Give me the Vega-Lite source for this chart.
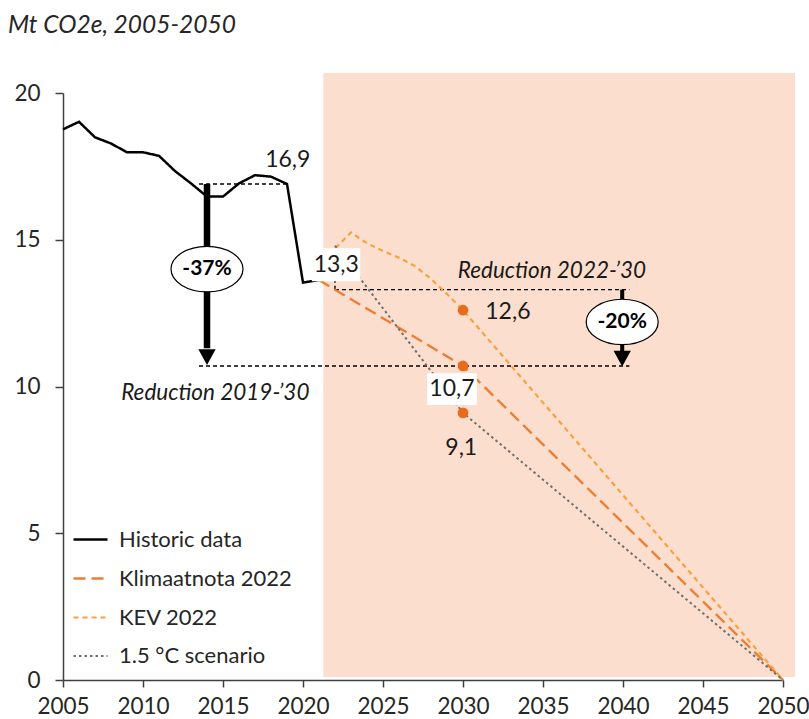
{
  "$schema": "https://vega.github.io/schema/vega-lite/v6.json",
  "width": 720,
  "height": 587,
  "autosize": {"type": "none"},
  "padding": {"left": 63, "top": 93, "right": 26, "bottom": 39},
  "config": {
    "view": {"stroke": null},
    "font": "Lato",
    "axis": {"grid": false, "domainColor": "#404040", "domainWidth": 1.5, "tickColor": "#404040", "tickWidth": 1.5, "labelColor": "#262626", "labelFontSize": 22.5, "labelFont": "Lato", "title": null}
  },
  "title": {"text": "Mt CO2e, 2005-2050", "anchor": "start", "frame": "group", "fontStyle": "italic", "fontWeight": "normal", "fontSize": 24.5, "font": "Lato", "color": "#262626", "dx": -55, "offset": 35},
  "datasets": {
    "shade": [{"x": 2021.27, "x2": 2050.75, "y": 0.1, "y2": 20.68}],
    "hrefs": [
      {"x": 2013.5, "x2": 2019, "y": 16.9},
      {"x": 2022, "x2": 2040.4, "y": 13.3},
      {"x": 2013.5, "x2": 2040.4, "y": 10.7}
    ],
    "vrefs": [{"x": 2022, "y": 13.3, "y2": 14.0}],
    "series": [
      {"series": "Historic data", "year": 2005, "value": 18.76},
      {"series": "Historic data", "year": 2006, "value": 19.02},
      {"series": "Historic data", "year": 2007, "value": 18.49},
      {"series": "Historic data", "year": 2008, "value": 18.28},
      {"series": "Historic data", "year": 2009, "value": 17.98},
      {"series": "Historic data", "year": 2010, "value": 17.98},
      {"series": "Historic data", "year": 2011, "value": 17.86},
      {"series": "Historic data", "year": 2012, "value": 17.34},
      {"series": "Historic data", "year": 2013, "value": 16.92},
      {"series": "Historic data", "year": 2014, "value": 16.47},
      {"series": "Historic data", "year": 2015, "value": 16.47},
      {"series": "Historic data", "year": 2016, "value": 16.92},
      {"series": "Historic data", "year": 2017, "value": 17.2},
      {"series": "Historic data", "year": 2018, "value": 17.15},
      {"series": "Historic data", "year": 2019, "value": 16.9},
      {"series": "Historic data", "year": 2020, "value": 13.54},
      {"series": "Historic data", "year": 2021, "value": 13.63},
      {"series": "Klimaatnota 2022", "year": 2021, "value": 13.63},
      {"series": "Klimaatnota 2022", "year": 2022, "value": 13.3},
      {"series": "Klimaatnota 2022", "year": 2030, "value": 10.7},
      {"series": "Klimaatnota 2022", "year": 2050, "value": 0},
      {"series": "KEV 2022", "year": 2021, "value": 13.63},
      {"series": "KEV 2022", "year": 2022, "value": 14.7},
      {"series": "KEV 2022", "year": 2023, "value": 15.25},
      {"series": "KEV 2022", "year": 2024, "value": 14.88},
      {"series": "KEV 2022", "year": 2025, "value": 14.62},
      {"series": "KEV 2022", "year": 2026, "value": 14.39},
      {"series": "KEV 2022", "year": 2027, "value": 14.1},
      {"series": "KEV 2022", "year": 2028, "value": 13.67},
      {"series": "KEV 2022", "year": 2029, "value": 13.15},
      {"series": "KEV 2022", "year": 2030, "value": 12.6},
      {"series": "KEV 2022", "year": 2050, "value": 0},
      {"series": "1.5 °C scenario", "year": 2022, "value": 14.8},
      {"series": "1.5 °C scenario", "year": 2030, "value": 9.1},
      {"series": "1.5 °C scenario", "year": 2050, "value": 0}
    ],
    "dots": [
      {"year": 2030, "value": 12.6},
      {"year": 2030, "value": 10.7},
      {"year": 2030, "value": 9.1}
    ],
    "arrows": [
      {"id": "2019-30", "year": 2014, "top": 16.9, "bottom": 11.3, "head": 11.0, "pct": "-37%", "pctY": 14.0},
      {"id": "2022-30", "year": 2039.95, "top": 13.3, "bottom": 11.1, "head": 10.95, "pct": "-20%", "pctY": 12.2}
    ],
    "boxes": [
      {"x": 2020.55, "x2": 2023.58, "y": 13.59, "y2": 14.71},
      {"x": 2027.75, "x2": 2030.87, "y": 9.37, "y2": 10.45}
    ],
    "valueLabels": [
      {"year": 2019.05, "value": 17.72, "text": "16,9"},
      {"year": 2022.08, "value": 14.14, "text": "13,3"},
      {"year": 2029.31, "value": 9.91, "text": "10,7"},
      {"year": 2029.89, "value": 7.9, "text": "9,1"}
    ],
    "leftLabels": [
      {"year": 2031.39, "value": 12.54, "text": "12,6"}
    ],
    "italicLabels": [
      {"year": 2035.56, "value": 13.92, "text": "Reduction 2022-’30"},
      {"year": 2014.52, "value": 9.78, "text": "Reduction 2019-’30"}
    ]
  },
  "layer": [
    {
      "data": {"name": "shade"},
      "mark": {"type": "rect", "color": "#FBDECD"},
      "encoding": {
        "x": {"field": "x", "type": "quantitative", "scale": {"domain": [2005, 2050], "nice": false, "zero": false},
              "axis": {"values": [2005, 2010, 2015, 2020, 2025, 2030, 2035, 2040, 2045, 2050], "format": "d", "tickSize": 7, "labelPadding": 8, "labelFlush": false}},
        "x2": {"field": "x2"},
        "y": {"field": "y", "type": "quantitative", "scale": {"domain": [0, 20], "nice": false, "zero": true},
              "axis": {"values": [0, 5, 10, 15, 20], "tickSize": 8, "labelPadding": 15}},
        "y2": {"field": "y2"}
      }
    },
    {
      "data": {"name": "hrefs"},
      "mark": {"type": "rule", "color": "#000000", "strokeWidth": 1.4, "strokeDash": [4, 3]},
      "encoding": {
        "x": {"field": "x", "type": "quantitative"},
        "x2": {"field": "x2"},
        "y": {"field": "y", "type": "quantitative"}
      }
    },
    {
      "data": {"name": "vrefs"},
      "mark": {"type": "rule", "color": "#000000", "strokeWidth": 1.4, "strokeDash": [4, 3]},
      "encoding": {
        "x": {"field": "x", "type": "quantitative"},
        "y": {"field": "y", "type": "quantitative"},
        "y2": {"field": "y2"}
      }
    },
    {
      "data": {"name": "series"},
      "mark": {"type": "line", "strokeJoin": "miter"},
      "encoding": {
        "x": {"field": "year", "type": "quantitative"},
        "y": {"field": "value", "type": "quantitative"},
        "detail": {"field": "series"},
        "color": {"field": "series", "type": "nominal",
          "scale": {"domain": ["Historic data", "Klimaatnota 2022", "KEV 2022", "1.5 °C scenario"], "range": ["#000000", "#ED7D31", "#F7A13E", "#6F6F6F"]},
          "legend": {"orient": "none", "legendX": 9, "legendY": 428, "title": null, "symbolType": "stroke", "symbolSize": 1156, "labelFontSize": 22, "labelColor": "#262626", "labelFont": "Lato", "labelLimit": 400, "rowPadding": 9, "labelOffset": 10}},
        "strokeDash": {"field": "series", "type": "nominal",
          "scale": {"domain": ["Historic data", "Klimaatnota 2022", "KEV 2022", "1.5 °C scenario"], "range": [[1, 0], [12, 6], [5, 4], [2.5, 3]]}},
        "strokeWidth": {"field": "series", "type": "nominal",
          "scale": {"domain": ["Historic data", "Klimaatnota 2022", "KEV 2022", "1.5 °C scenario"], "range": [2.5, 2, 1.8, 3]}}
      }
    },
    {
      "data": {"name": "dots"},
      "mark": {"type": "point", "filled": true, "color": "#E96C1C", "opacity": 1, "size": 115},
      "encoding": {
        "x": {"field": "year", "type": "quantitative"},
        "y": {"field": "value", "type": "quantitative"}
      }
    },
    {
      "data": {"name": "arrows"},
      "transform": [{"filter": "datum.id === '2019-30'"}],
      "mark": {"type": "rule", "color": "#000000", "strokeWidth": 6.5},
      "encoding": {
        "x": {"field": "year", "type": "quantitative"},
        "y": {"field": "top", "type": "quantitative"},
        "y2": {"field": "bottom"}
      }
    },
    {
      "data": {"name": "arrows"},
      "transform": [{"filter": "datum.id === '2022-30'"}],
      "mark": {"type": "rule", "color": "#000000", "strokeWidth": 4},
      "encoding": {
        "x": {"field": "year", "type": "quantitative"},
        "y": {"field": "top", "type": "quantitative"},
        "y2": {"field": "bottom"}
      }
    },
    {
      "data": {"name": "arrows"},
      "mark": {"type": "point", "filled": true, "color": "#000000", "opacity": 1, "size": 300, "shape": "M-1,-0.9L1,-0.9L0,0.9Z"},
      "encoding": {
        "x": {"field": "year", "type": "quantitative"},
        "y": {"field": "head", "type": "quantitative"}
      }
    },
    {
      "data": {"name": "arrows"},
      "mark": {"type": "point", "filled": false, "fill": "#FFFFFF", "fillOpacity": 1, "stroke": "#000000", "strokeWidth": 1.2, "opacity": 1, "size": 5184, "shape": "M-1,0A1,0.63,0,1,1,1,0A1,0.63,0,1,1,-1,0Z"},
      "encoding": {
        "x": {"field": "year", "type": "quantitative"},
        "y": {"field": "pctY", "type": "quantitative"}
      }
    },
    {
      "data": {"name": "arrows"},
      "mark": {"type": "text", "fontSize": 21, "fontWeight": "bold", "color": "#000000", "align": "center", "baseline": "middle"},
      "encoding": {
        "x": {"field": "year", "type": "quantitative"},
        "y": {"field": "pctY", "type": "quantitative"},
        "text": {"field": "pct"}
      }
    },
    {
      "data": {"name": "boxes"},
      "mark": {"type": "rect", "color": "#FFFFFF", "opacity": 1},
      "encoding": {
        "x": {"field": "x", "type": "quantitative"},
        "x2": {"field": "x2"},
        "y": {"field": "y", "type": "quantitative"},
        "y2": {"field": "y2"}
      }
    },
    {
      "data": {"name": "valueLabels"},
      "mark": {"type": "text", "fontSize": 23, "color": "#1A1A1A", "align": "center", "baseline": "middle"},
      "encoding": {
        "x": {"field": "year", "type": "quantitative"},
        "y": {"field": "value", "type": "quantitative"},
        "text": {"field": "text"}
      }
    },
    {
      "data": {"name": "leftLabels"},
      "mark": {"type": "text", "fontSize": 23, "color": "#1A1A1A", "align": "left", "baseline": "middle"},
      "encoding": {
        "x": {"field": "year", "type": "quantitative"},
        "y": {"field": "value", "type": "quantitative"},
        "text": {"field": "text"}
      }
    },
    {
      "data": {"name": "italicLabels"},
      "mark": {"type": "text", "fontSize": 22.5, "fontStyle": "italic", "color": "#1A1A1A", "align": "center", "baseline": "middle"},
      "encoding": {
        "x": {"field": "year", "type": "quantitative"},
        "y": {"field": "value", "type": "quantitative"},
        "text": {"field": "text"}
      }
    }
  ]
}
